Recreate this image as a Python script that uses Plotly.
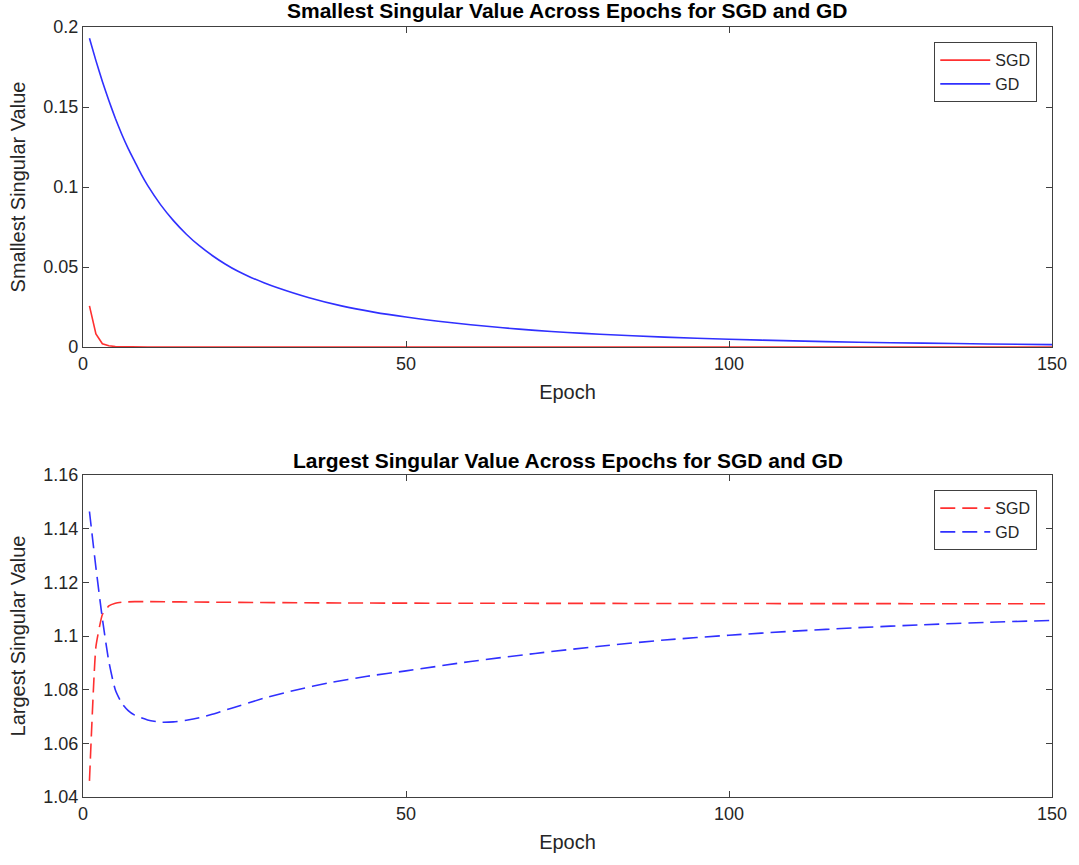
import plotly.graph_objects as go
from plotly.subplots import make_subplots

# ---- data ----
gd_small_epochs = [1, 2, 3, 4, 5, 6, 7, 8, 9, 10, 12, 14, 16, 18, 20, 22, 24, 26, 28, 30, 35, 40,
                   45, 50, 55, 60, 65, 70, 75, 80, 90, 100, 110, 120, 130, 140, 150]
gd_small_values = [0.193, 0.179, 0.166, 0.154, 0.143, 0.133, 0.124, 0.116, 0.108, 0.101, 0.089,
                   0.079, 0.0705, 0.0633, 0.0572, 0.0519, 0.0473, 0.0435, 0.0402, 0.0372, 0.0308,
                   0.0257, 0.0218, 0.0187, 0.0161, 0.0139, 0.0120, 0.0104, 0.0091, 0.0080, 0.0062,
                   0.0048, 0.0038, 0.0030, 0.0024, 0.0019, 0.0015]

sgd_small_epochs = [1, 2, 3, 4, 5, 6, 8, 10, 20, 50, 100, 150]
sgd_small_values = [0.0257, 0.0081, 0.0020, 0.0008, 0.0003, 0.00015, 0.00005, 0.00002, 0.0, 0.0, 0.0, 0.0]

gd_large_epochs = [1, 2, 3, 4, 5, 6, 7, 8, 10, 12, 14, 16, 18, 20, 23, 28, 33, 38, 44, 50,
                   60, 70, 80, 90, 100, 110, 120, 130, 140, 150]
gd_large_values = [1.1464, 1.1255, 1.1065, 1.0905, 1.0800, 1.0750, 1.0722, 1.0705, 1.0687, 1.0679,
                   1.0680, 1.0686, 1.0695, 1.0708, 1.0731, 1.0768, 1.0799, 1.0825, 1.0850, 1.0870,
                   1.0905, 1.0935, 1.0962, 1.0985, 1.1003, 1.1018, 1.1031, 1.1042, 1.1051, 1.1058]

sgd_large_epochs = [1, 2, 3, 4, 5, 6, 8, 10, 20, 40, 60, 100, 150]
sgd_large_values = [1.0460, 1.0960, 1.1080, 1.1112, 1.1122, 1.1126, 1.1128, 1.1128, 1.1126,
                    1.1123, 1.1122, 1.1121, 1.1120]

x_ticks = [0, 50, 100, 150]
top_title = "Smallest Singular Value Across Epochs for SGD and GD"
bottom_title = "Largest Singular Value Across Epochs for SGD and GD"

RED = "#FF3030"
BLUE = "#3030FF"
AX = "#404040"
TXT = "#262626"
FONT = "Liberation Sans, Arial, Helvetica, sans-serif"

fig = make_subplots(rows=2, cols=1, vertical_spacing=0.0)

fig.add_trace(go.Scatter(x=sgd_small_epochs, y=sgd_small_values, mode="lines", name="SGD",
                         line=dict(color=RED, width=1.6), legend="legend"), row=1, col=1)
fig.add_trace(go.Scatter(x=gd_small_epochs, y=gd_small_values, mode="lines", name="GD",
                         line=dict(color=BLUE, width=1.6, shape="spline", smoothing=0.5),
                         legend="legend"), row=1, col=1)
fig.add_trace(go.Scatter(x=sgd_large_epochs, y=sgd_large_values, mode="lines", name="SGD",
                         line=dict(color=RED, width=1.6, dash="15px,7px", shape="spline", smoothing=0.4),
                         legend="legend2"), row=2, col=1)
fig.add_trace(go.Scatter(x=gd_large_epochs, y=gd_large_values, mode="lines", name="GD",
                         line=dict(color=BLUE, width=1.6, dash="15px,7px", shape="spline", smoothing=0.6),
                         legend="legend2"), row=2, col=1)

axis_common = dict(showline=True, linecolor=AX, linewidth=1.3, mirror="ticks",
                   ticks="inside", ticklen=6, tickcolor=AX, tickwidth=1.2,
                   showgrid=False, zeroline=False,
                   tickfont=dict(family=FONT, size=18, color=TXT))

fig.update_xaxes(range=[0, 150], tickvals=x_ticks, **axis_common)
fig.update_xaxes(title=dict(text="Epoch", font=dict(family=FONT, size=20, color=TXT), standoff=12),
                 row=1, col=1)
fig.update_xaxes(title=dict(text="Epoch", font=dict(family=FONT, size=20, color=TXT), standoff=12),
                 row=2, col=1)
fig.update_yaxes(**axis_common)
fig.update_yaxes(range=[0, 0.2], dtick=0.05, row=1, col=1,
                 title=dict(text="Smallest Singular Value", font=dict(family=FONT, size=20, color=TXT),
                            standoff=12))
fig.update_yaxes(range=[1.04, 1.16], dtick=0.02, row=2, col=1,
                 title=dict(text="Largest Singular Value", font=dict(family=FONT, size=20, color=TXT),
                            standoff=12))

H_PLOT = 770.0
fig.update_layout(
    width=1079, height=865,
    margin=dict(l=83, r=22, t=27, b=68),
    plot_bgcolor="white", paper_bgcolor="white",
    xaxis=dict(domain=[0, 1]), xaxis2=dict(domain=[0, 1]),
    yaxis=dict(domain=[(797 - 347) / H_PLOT, 1.0]),
    yaxis2=dict(domain=[0.0, (797 - 475) / H_PLOT]),
    legend=dict(x=(1042 - 83) / 974.0, xanchor="right", y=(797 - 42) / H_PLOT, yanchor="top",
                bgcolor="white", bordercolor=AX, borderwidth=1.2,
                font=dict(family=FONT, size=16, color=TXT), itemwidth=50, tracegroupgap=0),
    legend2=dict(x=(1042 - 83) / 974.0, xanchor="right", y=(797 - 490) / H_PLOT, yanchor="top",
                 bgcolor="white", bordercolor=AX, borderwidth=1.2,
                 font=dict(family=FONT, size=16, color=TXT), itemwidth=50, tracegroupgap=0),
    annotations=[
        dict(text="<b>" + top_title + "</b>", x=0.5, xref="paper", xanchor="center",
             y=1 + (27 - 11) / H_PLOT, yref="paper", yanchor="middle", showarrow=False,
             font=dict(family=FONT, size=21, color="black")),
        dict(text="<b>" + bottom_title + "</b>", x=0.5, xref="paper", xanchor="center",
             y=(797 - 460) / H_PLOT, yref="paper", yanchor="middle", showarrow=False,
             font=dict(family=FONT, size=21, color="black")),
    ],
)

fig.write_html("out.html")
